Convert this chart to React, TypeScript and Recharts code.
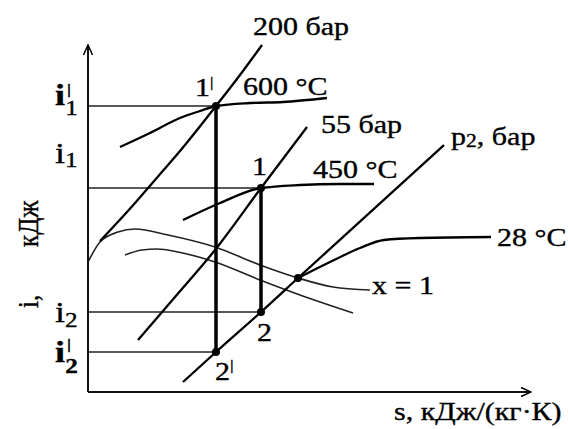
import React from 'react';
import { ComposedChart, Line, XAxis, YAxis, ReferenceDot } from 'recharts';

// i-s diagram, schematic units (s along, i up)
const isobar200 = [[1.2, 15.1], [3.9, 18.0], [6.7, 21.2], [9.7, 24.7], [12.8, 28.6], [15.2, 31.7], [17.4, 34.7]];
const isobar55 = [[5.0, 5.2], [8.7, 9.5], [12.7, 14.2], [17.3, 20.4], [21.9, 26.5]];
const isobarP2 = [[9.5, 1.0], [12.8, 4.0], [17.3, 8.0], [21.0, 11.4], [35.6, 24.7]];
const isotherm600 = [[3.2, 24.5], [6.2, 25.9], [9.2, 27.4], [11.2, 28.1], [12.8, 28.6], [16.2, 28.9], [19.5, 29.0], [23.9, 29.4]];
const isotherm450 = [[9.5, 17.2], [13.2, 18.9], [17.3, 20.4], [21.2, 20.7], [25.2, 20.8], [28.6, 20.8]];
const isotherm28 = [[21.0, 11.4], [24.2, 13.0], [27.2, 14.4], [29.6, 15.2], [33.2, 15.4], [40.3, 15.5]];
const satUpper = [[0, 13.0], [1.2, 15.0], [3.0, 16.0], [4.7, 16.3], [8.0, 15.7], [12.7, 14.5], [17.2, 12.7], [21.0, 11.4], [24.5, 10.5], [28.2, 10.2]];
const satLower = [[3.7, 13.7], [5.4, 14.2], [6.9, 14.3], [9.0, 14.0], [12.7, 13.0], [17.2, 11.2], [21.2, 9.7], [26.5, 7.9]];

// state points 1', 1, 2, 2' and the p2 / x = 1 / 28 °C crossing
const states = [[12.8, 28.6], [17.3, 20.4], [17.3, 8.0], [12.8, 4.0], [21.0, 11.4]];
// i-levels drawn from the i axis to the state points
const iLevels = [[12.8, 28.6], [17.3, 20.4], [17.3, 8.0], [12.8, 4.0]];
// expansion lines 1'-2' and 1-2
const expansions = [[[12.8, 28.6], [12.8, 4.0]], [[17.3, 20.4], [17.3, 8.0]]];

const pts = (arr: number[][]) => arr.map(([s, i]) => ({ s, i }));

const FONT = '"Liberation Serif", "Times New Roman", serif';

const Txt = ({ x, y, rotate, children }: any) => (
  <text
    transform={rotate ? `translate(${x},${y}) rotate(-90) scale(1,1.2)` : `translate(${x},${y}) scale(1.2,1)`}
    style={{ fontFamily: FONT }}
    fontSize={25}
    fill="#000"
    stroke="#000"
    strokeWidth={0.35}
  >
    {children}
  </text>
);

const bar = (size: number, dy: number) => (
  <tspan fontSize={size} dy={dy}>|</tspan>
);

// text anchors (left baseline) in chart units
const labels: { s: number; i: number; rotate?: boolean; body: React.ReactNode }[] = [
  { s: 16.5, i: 35.7, body: '200 бар' },
  { s: 15.5, i: 29.7, body: '600 °C' },
  { s: 10.7, i: 29.6, body: <><tspan>1</tspan>{bar(14, -9)}</> },
  { s: 23.3, i: 25.9, body: '55 бар' },
  { s: 16.4, i: 21.7, body: '1' },
  { s: 22.5, i: 21.4, body: '450 °C' },
  { s: 36.3, i: 24.7, body: <><tspan>p</tspan><tspan fontSize={18} dy={2}>2</tspan><tspan dy={-2}>, бар</tspan></> },
  { s: 40.9, i: 14.6, body: '28 °C' },
  { s: 28.4, i: 9.8, body: 'x = 1' },
  { s: 16.9, i: 5.1, body: '2' },
  { s: 12.7, i: 1.2, body: <><tspan>2</tspan>{bar(15, -10)}</> },
  {
    s: -3.3, i: 28.7,
    body: <><tspan fontSize={30} fontWeight="bold">i</tspan><tspan x={10} dy={-11} fontSize={15} fontWeight="bold">|</tspan><tspan x={8.5} dy={21} fontSize={21}>1</tspan></>,
  },
  { s: -3.3, i: 22.9, body: <><tspan fontSize={30}>i</tspan><tspan fontSize={21} dy={4}>1</tspan></> },
  { s: -3.3, i: 7.0, body: <><tspan fontSize={30}>i</tspan><tspan fontSize={21} dy={5}>2</tspan></> },
  {
    s: -3.3, i: 3.0,
    body: <><tspan fontSize={30} fontWeight="bold">i</tspan><tspan x={10} dy={-13} fontSize={15} fontWeight="bold">|</tspan><tspan x={8.5} dy={24} fontSize={21} fontWeight="bold">2</tspan></>,
  },
  { s: 30.6, i: -2.8, body: 's, кДж/(кг·К)' },
  { s: -5.0, i: 8.4, rotate: true, body: <><tspan>i,</tspan><tspan x={61}>кДж</tspan></> },
];

const thick = { stroke: '#000', dot: false, activeDot: false, isAnimationActive: false, legendType: 'none' as const };

const App = () => (
  <div style={{ position: 'absolute', left: 0, top: 0, background: '#fff' }}>
    <ComposedChart width={568} height={429} margin={{ top: 45, right: 37, bottom: 36, left: 87 }}>
      <defs>
        <marker id="arrowHead" viewBox="0 0 12 12" refX={11} refY={6} markerWidth={12} markerHeight={12} markerUnits="userSpaceOnUse" orient="auto-start-reverse">
          <path d="M1,1.5 L11,6 L1,10.5" fill="none" stroke="#000" strokeWidth={1.5} />
        </marker>
      </defs>
      <XAxis
        type="number"
        dataKey="s"
        domain={[0, 44.3]}
        height={1}
        tick={false}
        tickLine={false}
        axisLine={{ stroke: '#111', strokeWidth: 2, markerEnd: 'url(#arrowHead)' }}
      />
      <YAxis
        type="number"
        dataKey="i"
        domain={[0, 34.7]}
        width={1}
        tick={false}
        tickLine={false}
        axisLine={{ stroke: '#111', strokeWidth: 2, markerStart: 'url(#arrowHead)' }}
      />
      {iLevels.map(([s, i], k) => (
        <Line key={`lvl${k}`} data={pts([[0, i], [s, i]])} dataKey="i" type="linear" {...thick} stroke="#222" strokeWidth={1.6} />
      ))}
      <Line data={pts(satUpper)} dataKey="i" type="monotone" {...thick} stroke="#222" strokeWidth={1.6} />
      <Line data={pts(satLower)} dataKey="i" type="monotone" {...thick} stroke="#222" strokeWidth={1.6} />
      <Line data={pts(isobar200)} dataKey="i" type="monotone" {...thick} strokeWidth={2.3} />
      <Line data={pts(isobar55)} dataKey="i" type="monotone" {...thick} strokeWidth={2.3} />
      <Line data={pts(isobarP2)} dataKey="i" type="monotone" {...thick} strokeWidth={2.3} />
      <Line data={pts(isotherm600)} dataKey="i" type="monotone" {...thick} strokeWidth={2.3} />
      <Line data={pts(isotherm450)} dataKey="i" type="monotone" {...thick} strokeWidth={2.3} />
      <Line data={pts(isotherm28)} dataKey="i" type="monotone" {...thick} strokeWidth={2.3} />
      {expansions.map((seg, k) => (
        <Line key={`exp${k}`} data={pts(seg)} dataKey="i" type="linear" {...thick} strokeWidth={3.5} />
      ))}
      <Line
        data={pts(states)}
        dataKey="i"
        stroke="none"
        isAnimationActive={false}
        activeDot={false}
        dot={{ r: 4, fill: '#000', stroke: 'none' }}
      />
      {labels.map((l, k) => (
        <ReferenceDot
          key={`lab${k}`}
          x={l.s}
          y={l.i}
          r={0}
          ifOverflow="visible"
          shape={(p: any) => <Txt x={p.cx} y={p.cy} rotate={l.rotate}>{l.body}</Txt>}
        />
      ))}
    </ComposedChart>
  </div>
);

export default App;
